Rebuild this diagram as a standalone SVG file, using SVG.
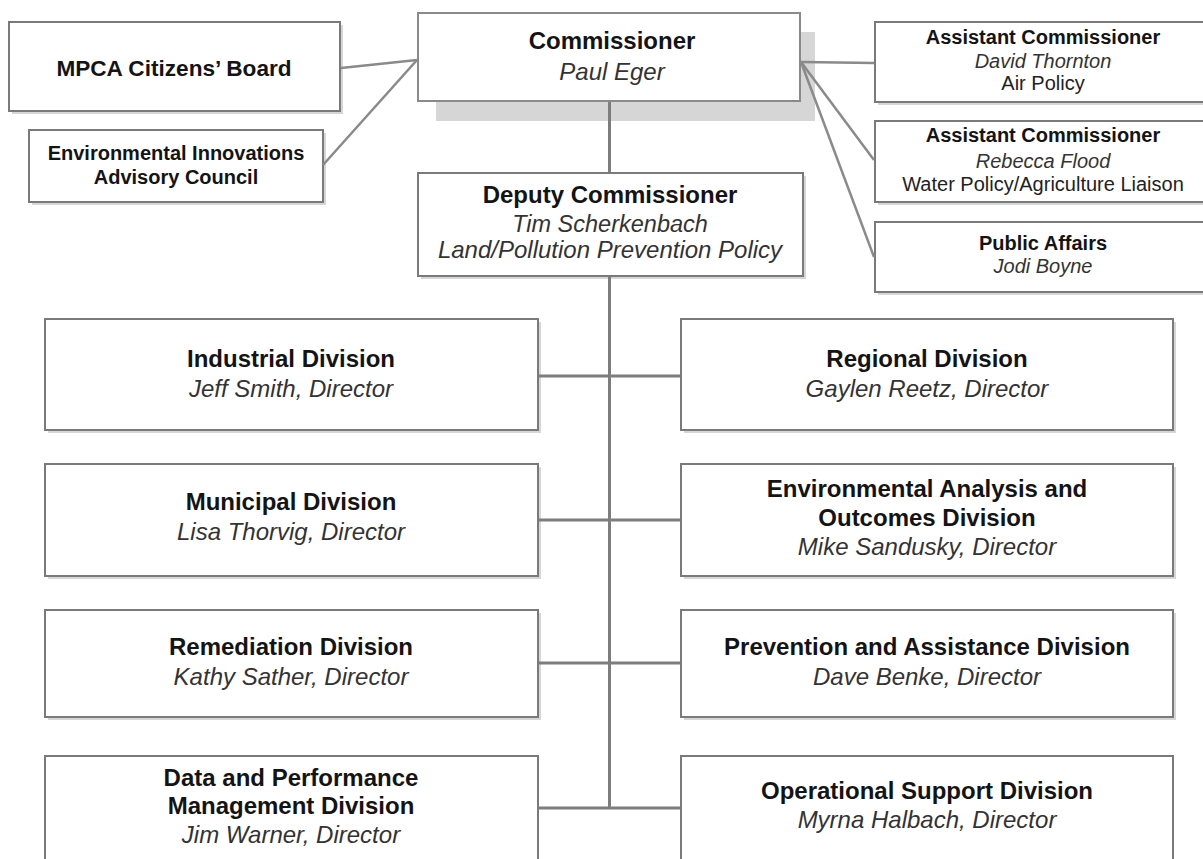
<svg xmlns="http://www.w3.org/2000/svg" width="1203" height="859" viewBox="0 0 1203 859">
<style>
.box{fill:#fff;stroke:#7a7a7a;stroke-width:2}
.sh{fill:#d6d6d6}
.b{font-family:"Liberation Sans",Arial,sans-serif;font-weight:bold;fill:#141414;text-anchor:middle}
.i{font-family:"Liberation Sans",Arial,sans-serif;font-style:italic;fill:#333;text-anchor:middle}
.r{font-family:"Liberation Sans",Arial,sans-serif;fill:#222;text-anchor:middle}
.c{stroke:#7d7d7d;stroke-width:3;fill:none}
.d{stroke:#8a8a8a;stroke-width:2.5;fill:none}
</style>
<rect width="1203" height="859" fill="#fff"/>
<g id="citizens-board">
<rect class="sh" x="12" y="25" width="331" height="89"/>
<rect class="box" x="9" y="22" width="331" height="89"/>
<text class="b" x="174" y="76" font-size="22.6">MPCA Citizens’ Board</text>
</g>
<g id="innovations-council">
<rect class="sh" x="32" y="133" width="294" height="72"/>
<rect class="box" x="29" y="130" width="294" height="72"/>
<text class="b" x="176" y="160" font-size="20">Environmental Innovations</text>
<text class="b" x="176" y="184" font-size="20">Advisory Council</text>
</g>
<g id="commissioner">
<rect class="sh" x="436" y="32" width="379" height="89"/>
<rect x="418" y="13" width="382" height="88" fill="#fff" stroke="#8a8a8a" stroke-width="2"/>
<text class="b" x="612" y="49" font-size="24">Commissioner</text>
<text class="i" x="612" y="80" font-size="24">Paul Eger</text>
</g>
<g id="deputy-commissioner">
<rect class="sh" x="421" y="176" width="385" height="103"/>
<rect class="box" x="418" y="173" width="385" height="103"/>
<text class="b" x="610" y="203" font-size="24">Deputy Commissioner</text>
<text class="i" x="610" y="232" font-size="23.5">Tim Scherkenbach</text>
<text class="i" x="610" y="258" font-size="24">Land/Pollution Prevention Policy</text>
</g>
<g id="asst-air">
<rect class="sh" x="878" y="25" width="340" height="80"/>
<rect class="box" x="875" y="22" width="340" height="80"/>
<text class="b" x="1043" y="44" font-size="20">Assistant Commissioner</text>
<text class="i" x="1043" y="68" font-size="20">David Thornton</text>
<text class="r" x="1043" y="90" font-size="20">Air Policy</text>
</g>
<g id="asst-water">
<rect class="sh" x="878" y="124" width="340" height="81"/>
<rect class="box" x="875" y="121" width="340" height="81"/>
<text class="b" x="1043" y="142" font-size="20">Assistant Commissioner</text>
<text class="i" x="1043" y="168" font-size="20">Rebecca Flood</text>
<text class="r" x="1043" y="191" font-size="20">Water Policy/Agriculture Liaison</text>
</g>
<g id="public-affairs">
<rect class="sh" x="878" y="225" width="340" height="70"/>
<rect class="box" x="875" y="222" width="340" height="70"/>
<text class="b" x="1043" y="250" font-size="20">Public Affairs</text>
<text class="i" x="1043" y="273" font-size="20">Jodi Boyne</text>
</g>
<g id="industrial">
<rect class="sh" x="48" y="322" width="493" height="111"/>
<rect class="box" x="45" y="319" width="493" height="111"/>
<text class="b" x="291" y="367" font-size="24">Industrial Division</text>
<text class="i" x="291" y="397" font-size="24">Jeff Smith, Director</text>
</g>
<g id="regional">
<rect class="sh" x="684" y="322" width="492" height="111"/>
<rect class="box" x="681" y="319" width="492" height="111"/>
<text class="b" x="927" y="367" font-size="24">Regional Division</text>
<text class="i" x="927" y="397" font-size="24">Gaylen Reetz, Director</text>
</g>
<g id="municipal">
<rect class="sh" x="48" y="467" width="493" height="112"/>
<rect class="box" x="45" y="464" width="493" height="112"/>
<text class="b" x="291" y="510" font-size="24">Municipal Division</text>
<text class="i" x="291" y="540" font-size="24">Lisa Thorvig, Director</text>
</g>
<g id="env-analysis">
<rect class="sh" x="684" y="467" width="492" height="112"/>
<rect class="box" x="681" y="464" width="492" height="112"/>
<text class="b" x="927" y="497" font-size="24">Environmental Analysis and</text>
<text class="b" x="927" y="526" font-size="24">Outcomes Division</text>
<text class="i" x="927" y="555" font-size="24">Mike Sandusky, Director</text>
</g>
<g id="remediation">
<rect class="sh" x="48" y="613" width="493" height="107"/>
<rect class="box" x="45" y="610" width="493" height="107"/>
<text class="b" x="291" y="655" font-size="24">Remediation Division</text>
<text class="i" x="291" y="685" font-size="24">Kathy Sather, Director</text>
</g>
<g id="prevention">
<rect class="sh" x="684" y="613" width="492" height="107"/>
<rect class="box" x="681" y="610" width="492" height="107"/>
<text class="b" x="927" y="655" font-size="24">Prevention and Assistance Division</text>
<text class="i" x="927" y="685" font-size="24">Dave Benke, Director</text>
</g>
<g id="data-performance">
<rect class="box" x="45" y="756" width="493" height="120"/>
<text class="b" x="291" y="786" font-size="24">Data and Performance</text>
<text class="b" x="291" y="814" font-size="24">Management Division</text>
<text class="i" x="291" y="843" font-size="24">Jim Warner, Director</text>
</g>
<g id="operational-support">
<rect class="box" x="681" y="756" width="492" height="120"/>
<text class="b" x="927" y="799" font-size="24">Operational Support Division</text>
<text class="i" x="927" y="828" font-size="24">Myrna Halbach, Director</text>
</g>
<g id="connectors">
<line class="c" x1="609.5" y1="102" x2="609.5" y2="172"/>
<line class="c" x1="609.5" y1="277" x2="609.5" y2="808"/>
<line class="c" x1="539" y1="376" x2="680" y2="376"/>
<line class="c" x1="539" y1="520" x2="680" y2="520"/>
<line class="c" x1="539" y1="663" x2="680" y2="663"/>
<line class="c" x1="539" y1="808" x2="680" y2="808"/>
<line class="d" x1="417" y1="60" x2="341" y2="68"/>
<line class="d" x1="417" y1="60" x2="323" y2="165"/>
<line class="d" x1="801" y1="62" x2="874" y2="63"/>
<line class="d" x1="801" y1="62" x2="874" y2="160"/>
<line class="d" x1="801" y1="62" x2="874" y2="257"/>
</g>
</svg>
